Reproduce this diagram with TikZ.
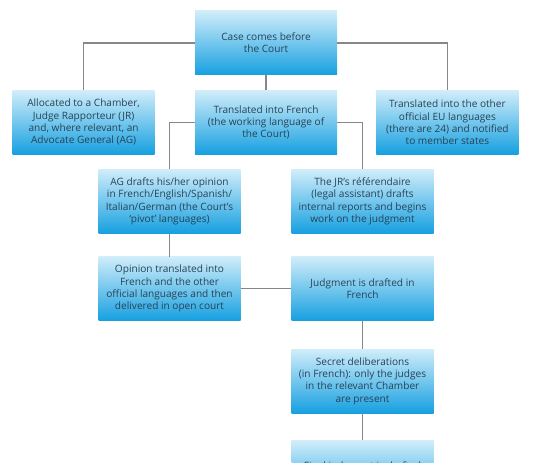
\documentclass[tikz,border=0pt]{standalone}
\usepackage{fontspec}
\setmainfont{Open Sans}
\usepackage{tikz}
\usetikzlibrary{positioning, calc}
\usepackage{xcolor}
\definecolor{courttop}{RGB}{208,237,250}
\definecolor{courtbot}{RGB}{22,160,224}
\definecolor{courttext}{RGB}{40,66,86}
\definecolor{courtline}{RGB}{135,135,135}

\begin{document}
\begin{tikzpicture}[
    x=1pt, y=-1pt,
    node distance=15pt,
    stage/.style={rectangle, top color=courttop, bottom color=courtbot,
                  minimum height=64pt, minimum width=142pt, inner sep=0pt,
                  align=center, text=courttext,
                  font=\fontsize{10.1}{12.3}\selectfont},
    link/.style={draw=courtline, line width=1.1pt},
]
    \path[use as bounding box, clip] (0,0) rectangle (534,462);

    \node[stage] (case) at (266,43) {Case comes before\\the Court};
    \node[stage, below=of case] (french) {Translated into French\\(the working language of\\the Court)};
    \node[stage, left=40pt of french] (alloc) {Allocated to a Chamber,\\Judge Rapporteur (JR)\\and, where relevant, an\\Advocate General (AG)};
    \node[stage, right=39pt of french] (official) {Translated into the other\\official EU languages\\(there are 24) and notified\\to member states};

    \node[stage, below=14.5pt of french, xshift=-96.5pt] (agdraft) {AG drafts his/her opinion\\in French/English/Spanish/\\Italian/German (the Court's\\`pivot' languages)};
    \node[stage, below=14.5pt of french, xshift=96.5pt] (jrdraft) {The JR's r\'ef\'erendaire\\(legal assistant) drafts\\internal reports and begins\\work on the judgment};

    \node[stage, below=23pt of agdraft] (opinion) {Opinion translated into\\French and the other\\official languages and then\\delivered in open court};
    \node[stage, below=23pt of jrdraft] (judgment) {Judgment is drafted in\\French};
    \node[stage, below=28pt of judgment] (secret) {Secret deliberations\\(in French): only the judges\\in the relevant Chamber\\are present};
    \node[stage, below=27pt of secret, text height=9pt, text depth=15pt] (final) {Final judgment is drafted};

    % connectors
    \draw[link] (case.west) -| (alloc.north);
    \draw[link] (case.east) -| (official.north);
    \draw[link] (case) -- (french);
    \draw[link] (french.west) -| (agdraft.north);
    \draw[link] (french.east) -| (jrdraft.north);
    \draw[link] (agdraft) -- (opinion);
    \draw[link] (opinion) -- (judgment);
    \draw[link] (judgment) -- (secret);
    \draw[link] (secret) -- (final);
\end{tikzpicture}
\end{document}
